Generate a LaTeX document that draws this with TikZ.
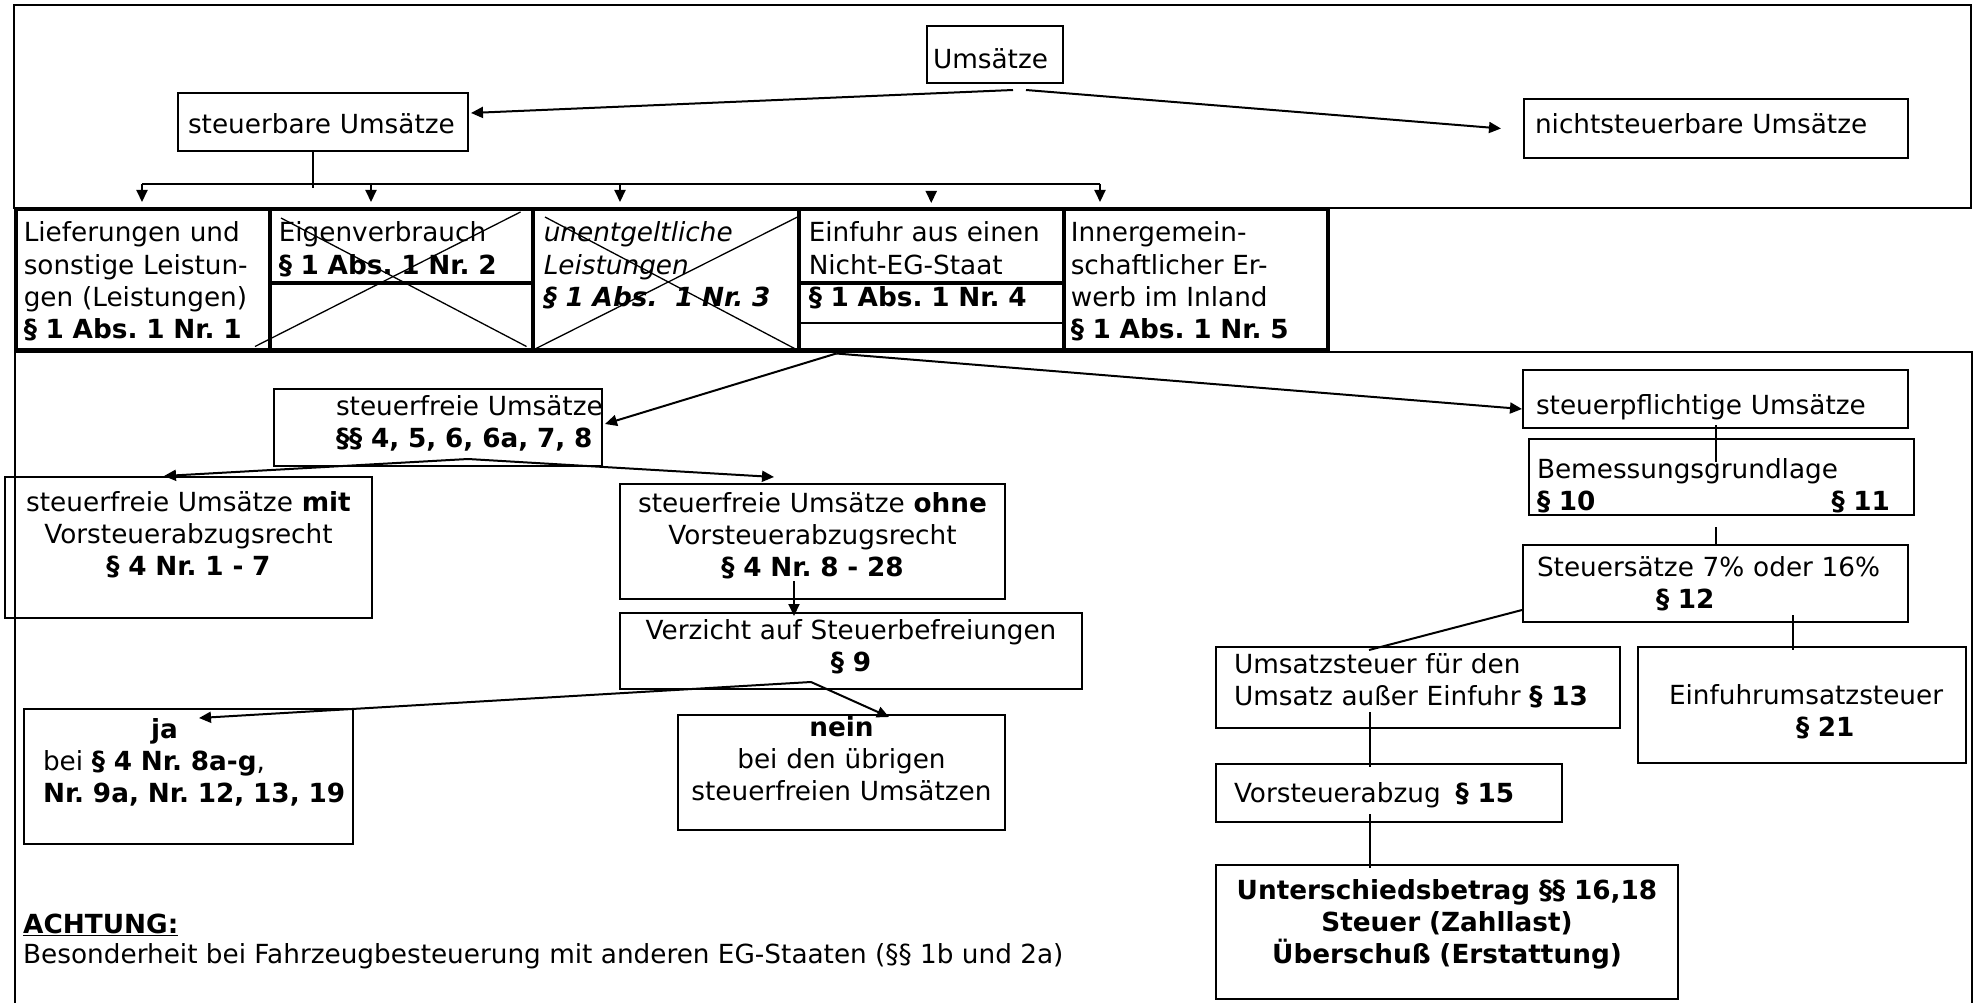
\documentclass[tikz,border=0pt]{standalone}
\usepackage{fontspec}
\setmainfont{DejaVu Sans}[ItalicFont={DejaVu Sans Oblique}, BoldItalicFont={DejaVu Sans Bold Oblique}]
\frenchspacing
\usetikzlibrary{arrows.meta}

\begin{document}
\begin{tikzpicture}[x=1pt, y=-1pt]
    \tikzstyle{box}    = [rectangle, draw=black, line width=2pt, anchor=north west, inner ysep=0pt, align=left, font=\fontsize{26.3}{32.4}\selectfont]
    \tikzstyle{rowbox} = [box, line width=3.5pt]
    \tikzstyle{link}   = [line width=2pt]
    \tikzstyle{arrow}  = [line width=2pt, -{Triangle[length=12pt, width=11pt]}]
    \tikzstyle{strike} = [line width=1.3pt]

    \useasboundingbox (0,0) rectangle (1973,1003);

    % Frames
    \draw[link] (14,5) rectangle (1971,208);
    \draw[link] (15,1003) -- (15,352) -- (1972,352) -- (1972,1003);

    % Top part
    \node[box, inner xsep=6pt,  text width=124pt, text height=43pt, text depth=14pt] (umsaetze)       at (926,25)  {Umsätze};
    \node[box, inner xsep=10pt, text width=270pt, text height=41pt, text depth=17pt] (steuerbar)      at (177,92)  {\mbox{steuerbare Umsätze}};
    \node[box, inner xsep=11pt, text width=362pt, text height=35pt, text depth=24pt] (nichtsteuerbar) at (1523,98) {nichtsteuerbare Umsätze};

    % Kinds of taxable turnover
    \node[rowbox, inner xsep=8pt,  text width=238pt, text height=32pt, text depth=108pt] (lief)  at (14,208)   {Lieferungen und\\sonstige Leistun-\\gen (Leistungen)\\\mbox{\textbf{§ 1 Abs. 1 Nr. 1}}};
    \node[rowbox, inner xsep=9pt,  text width=245pt, text height=32pt, text depth=108pt] (eigen) at (268,208)  {Eigenverbrauch\\\mbox{\textbf{§ 1 Abs. 1 Nr. 2}}};
    \node[rowbox, inner xsep=11pt, text width=244pt, text height=32pt, text depth=108pt] (unent) at (531,208)  {\textit{unentgeltliche}\\\textit{Leistungen}\\\mbox{\textbf{\textit{§ 1 Abs.\ \ 1 Nr. 3}}}};
    \node[rowbox, inner xsep=10pt, text width=245pt, text height=32pt, text depth=108pt] (ein)   at (797,208)  {\mbox{Einfuhr aus einen}\\Nicht-EG-Staat\\\mbox{\textbf{§ 1 Abs. 1 Nr. 4}}};
    \node[rowbox, inner xsep=7pt,  text width=250pt, text height=32pt, text depth=108pt] (inner) at (1062,208) {Innergemein-\\schaftlicher Er-\\werb im Inland\\\mbox{\textbf{§ 1 Abs. 1 Nr. 5}}};

    \draw[line width=3.5pt] ([yshift=-75pt]eigen.north west) -- ([yshift=-75pt]eigen.north east);
    \draw[line width=3.5pt] ([yshift=-75pt]ein.north west)   -- ([yshift=-75pt]ein.north east);
    \draw[line width=2.5pt] ([yshift=-115pt]ein.north west)  -- ([yshift=-115pt]ein.north east);

    \draw[strike] ([xshift=-13pt,yshift=5pt]eigen.south west) -- ([xshift=-14pt,yshift=-4pt]eigen.north east);
    \draw[strike] ([xshift=13pt,yshift=-10pt]eigen.north west) -- ([xshift=-8pt,yshift=5pt]eigen.south east);
    \draw[strike] ([xshift=5pt,yshift=3pt]unent.south west)    -- ([xshift=-3pt,yshift=-9pt]unent.north east);
    \draw[strike] ([xshift=14pt,yshift=-9pt]unent.north west)  -- ([xshift=-6pt,yshift=3pt]unent.south east);

    % Tax-free turnover
    \node[box, inner xsep=62pt, text width=204pt, text height=26pt, text depth=51pt] (sfrei) at (273,388) {\mbox{steuerfreie Umsätze}\\\mbox{\textbf{§§ 4, 5, 6, 6a, 7, 8}}};
    \node[box, align=center, inner xsep=5pt, text width=357pt, text height=34pt, text depth=107pt] (mit)      at (4,476)   {steuerfreie Umsätze \textbf{mit}\\Vorsteuerabzugsrecht\\\textbf{§ 4 Nr. 1 - 7}};
    \node[box, align=center, inner xsep=8pt, text width=369pt, text height=28pt, text depth=87pt]  (ohne)     at (619,483) {\mbox{steuerfreie Umsätze \textbf{ohne}}\\Vorsteuerabzugsrecht\\\textbf{§ 4 Nr. 8 - 28}};
    \node[box, align=center, inner xsep=9pt, text width=444pt, text height=26pt, text depth=50pt]  (verzicht) at (619,612) {Verzicht auf Steuerbefreiungen\\\textbf{§ 9}};
    \node[box, inner xsep=19pt, text width=291pt, text height=29pt, text depth=106pt] (ja) at (23,708) {\hspace*{108pt}\textbf{ja}\\bei \textbf{§ 4 Nr. 8a-g},\\\mbox{\textbf{Nr. 9a, Nr. 12, 13, 19}}};
    \node[box, align=center, inner xsep=6pt, text width=315pt, text height=21pt, text depth=94pt]  (nein)     at (677,714) {\textbf{nein}\\bei den übrigen\\\mbox{steuerfreien Umsätzen}};

    % Taxable turnover
    \node[box, inner xsep=13pt, text width=359pt, text height=44pt, text depth=14pt] (spfl)  at (1522,369) {steuerpflichtige Umsätze};
    \node[box, inner xsep=8pt,  text width=369pt, text height=39pt, text depth=37pt] (bem)   at (1528,438) {Bemessungsgrundlage\\\textbf{§ 10}\hspace*{236pt}\textbf{§ 11}};
    \node[box, inner xsep=14pt, text width=357pt, text height=31pt, text depth=46pt] (ssatz) at (1522,544) {\mbox{Steuersätze 7\% oder 16\%}\\\hspace*{119pt}\textbf{§ 12}};
    \node[box, inner xsep=18pt, text width=368pt, text height=26pt, text depth=55pt] (umst)  at (1215,646) {Umsatzsteuer für den\\\mbox{Umsatz außer Einfuhr \textbf{§ 13}}};
    \node[box, inner xsep=31pt, text width=266pt, text height=57pt, text depth=59pt] (eust)  at (1637,646) {\mbox{Einfuhrumsatzsteuer}\\\hspace*{127pt}\textbf{§ 21}};
    \node[box, inner xsep=18pt, text width=310pt, text height=38pt, text depth=20pt] (vorst) at (1215,763) {Vorsteuerabzug\hspace*{15pt}\textbf{§ 15}};
    \node[box, align=center, inner xsep=8pt, text width=446pt, text height=34pt, text depth=100pt] (diff) at (1215,864) {\textbf{Unterschiedsbetrag §§ 16,18}\\\textbf{Steuer (Zahllast)}\\\textbf{Überschuß (Erstattung)}};

    % Note
    \node[anchor=base west, inner sep=0pt, align=left, font=\fontsize{26.3}{30}\selectfont] (achtung) at (23,963) {\underline{\textbf{ACHTUNG:}}\\Besonderheit bei Fahrzeugbesteuerung mit anderen EG-Staaten (§§ 1b und 2a)};

    % Arrows
    \draw[arrow] ([xshift=18pt,yshift=-6pt]umsaetze.south) -- ([xshift=2pt,yshift=9pt]steuerbar.east);
    \draw[arrow] ([xshift=31pt,yshift=-6pt]umsaetze.south) -- ([xshift=-22pt]nichtsteuerbar.west);

    \coordinate (bus) at ([xshift=-10pt,yshift=-32pt]steuerbar.south);
    \path (bus) ++(-171,0) coordinate (b1);
    \path (bus) ++(58,0)   coordinate (b2);
    \path (bus) ++(307,0)  coordinate (b3);
    \path (bus) ++(787,0)  coordinate (b5);
    \draw[link]  ([xshift=-10pt]steuerbar.south) -- ++(0,36);
    \draw[link]  (b1) -- (b5);
    \draw[arrow] (b1) -- ++(0,18);
    \draw[arrow] (b2) -- ++(0,18);
    \draw[arrow] (b3) -- ++(0,18);
    \draw[arrow] (b5) -- ++(0,18);
    \draw[arrow] ([yshift=17pt]ein.north) -- ([yshift=5pt]ein.north);

    \coordinate (split) at ([xshift=-95pt,yshift=-2pt]ein.south);
    \draw[arrow] (split) -- ([xshift=2pt,yshift=3.5pt]sfrei.east);
    \draw[arrow] (split) -- ([yshift=-10pt]spfl.west);

    \coordinate (sfreiP) at ([xshift=30pt,yshift=8pt]sfrei.south);
    \draw[arrow] (sfreiP) -- ([xshift=-24.5pt]mit.north);
    \draw[arrow] (sfreiP) -- ([xshift=-38.5pt,yshift=6pt]ohne.north);
    \draw[arrow] ([xshift=-18.5pt,yshift=19pt]ohne.south) -- ([xshift=-57pt,yshift=-4pt]verzicht.north);

    \coordinate (vzP) at ([xshift=-40pt,yshift=8pt]verzicht.south);
    \draw[arrow] (vzP) -- ([xshift=10.5pt,yshift=-10pt]ja.north);
    \draw[arrow] (vzP) -- ([xshift=47.5pt,yshift=-3pt]nein.north);

    % Lines
    \draw[link] ([yshift=4pt]spfl.south) -- ++(0,37);
    \draw[link] ([xshift=-5.5pt,yshift=-11pt]bem.south) -- ([xshift=0.5pt]ssatz.north);
    \draw[link] ([yshift=-26.5pt]ssatz.west) -- ([xshift=-49pt,yshift=-4pt]umst.north);
    \draw[link] ([xshift=77.5pt,yshift=8pt]ssatz.south) -- ([xshift=-9pt,yshift=-4pt]eust.north);
    \draw[link] ([xshift=-48pt,yshift=17pt]umst.south) -- ([xshift=-19pt,yshift=-4pt]vorst.north);
    \draw[link] ([xshift=-19pt,yshift=9pt]vorst.south) -- ([xshift=-77pt,yshift=-4pt]diff.north);

\end{tikzpicture}
\end{document}
